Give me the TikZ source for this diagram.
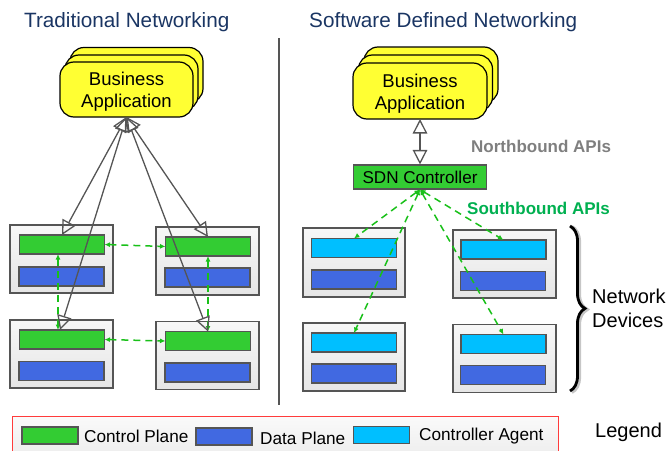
\documentclass[tikz,border=0pt]{standalone}
\usepackage{fontspec}
\setmainfont{Liberation Sans}
\usetikzlibrary{arrows.meta,decorations.pathreplacing}
\definecolor{titleblue}{HTML}{1A3563}
\definecolor{ctrlgreen}{HTML}{33CC33}
\definecolor{datablue}{HTML}{4169E1}
\definecolor{agentcyan}{HTML}{00BFFF}
\definecolor{appyellow}{HTML}{FFFF33}
\definecolor{edgegray}{HTML}{555555}
\definecolor{linkgreen}{HTML}{19C019}
\definecolor{southgreen}{HTML}{00B050}
\definecolor{northgray}{HTML}{7F7F7F}
\definecolor{legendred}{HTML}{FF3B3B}
\begin{document}
\begin{tikzpicture}[x=1pt,y=-1pt,
  title/.style={anchor=base west, text=titleblue, font=\fontsize{20.7}{24}\selectfont, inner sep=0},
  devbox/.style={draw=edgegray, line width=1.1pt, top color=white!97!black, bottom color=white!90!black,
    minimum width=103pt, minimum height=68pt, inner sep=0, outer sep=0},
  bar/.style={draw=edgegray, line width=1.1pt, minimum width=85pt, minimum height=19pt, inner sep=0, outer sep=0},
  ctrlbar/.style={bar, fill=ctrlgreen},
  databar/.style={bar, fill=datablue},
  agentbar/.style={bar, fill=agentcyan},
  appcard/.style={draw=black, line width=1.2pt, fill=appyellow, rounded corners=14pt,
    minimum width=133pt, minimum height=55pt, inner sep=0, outer sep=0},
  applabel/.style={align=center, inner sep=0, font=\fontsize{18.5}{21.5}\selectfont},
  apiarrow/.style={>={Triangle[open,length=14.5pt,width=14.5pt]}, <->, draw=edgegray, line width=1.3pt},
  peerlink/.style={>={Latex[length=5.5pt,width=5pt]}, <->, draw=linkgreen, line width=1.5pt,
    dash pattern=on 7pt off 5pt},
  apilabel/.style={anchor=west, inner sep=0, font=\fontsize{17}{20}\selectfont\bfseries},
  swatch/.style={draw=edgegray, line width=1.1pt, minimum width=56pt, minimum height=17pt, inner sep=0},
  legendtext/.style={anchor=west, inner sep=0, font=\fontsize{17.2}{20}\selectfont},
]
\useasboundingbox (0,0) rectangle (672,450);
\clip (0,0) rectangle (672,450);

% headings and divider
\node[title] (ttrad) at (24,27.5) {Traditional Networking};
\node[title] (tsdn) at (309,27.5) {Software Defined Networking};
\draw[edgegray, line width=1.5pt] (279,38) -- (279,405);

% ---------- traditional networking ----------
\node[appcard] (appLc) at (136.5,75) {};
\node[appcard] (appLb) at (131.5,82.5) {};
\node[appcard] (appL) at (126.5,89.5) {};
\node[applabel] (appLt) at (126.5,91.5) {Business\\Application};

\node[devbox] (tl) at (61.5,259) {};
\node[ctrlbar] (tlg) at (62,244.5) {};
\node[databar] (tlb) at (61.5,276.5) {};
\node[devbox] (tr) at (207.5,261) {};
\node[ctrlbar] (trg) at (208,246.5) {};
\node[databar] (trb) at (207.5,277.5) {};
\node[devbox] (bl) at (61.5,354) {};
\node[ctrlbar] (blg) at (62,339.5) {};
\node[databar] (blb) at (61.5,371) {};
\node[devbox] (br) at (207.5,355.5) {};
\node[ctrlbar] (brg) at (208,341) {};
\node[databar] (brb) at (207.5,372.5) {};

\draw[peerlink] (tlg.east) -- (trg.west);
\draw[peerlink] (blg.east) -- (brg.west);
\draw[peerlink] ([xshift=-4pt]tlg.south) -- ([xshift=-4pt]blg.north);
\draw[peerlink] (trg.south) -- (brg.north);

\draw[apiarrow] (appL.south) -- (tlg.north);
\draw[apiarrow] (appL.south) -- ([xshift=-2pt]blg.north);
\draw[apiarrow] (appL.south) -- (trg.north);
\draw[apiarrow] (appL.south) -- (brg.north);

% ---------- software defined networking ----------
\node[appcard, minimum width=134pt, minimum height=56pt] (appRc) at (431,75) {};
\node[appcard, minimum width=134pt, minimum height=56pt] (appRb) at (425.5,83) {};
\node[appcard, minimum width=134pt, minimum height=56pt] (appR) at (420,91) {};
\node[applabel] (appRt) at (420,93.5) {Business\\Application};

\node[draw=edgegray, line width=1.1pt, fill=ctrlgreen, minimum width=133pt, minimum height=24pt,
  inner sep=0, font=\fontsize{17.1}{20}\selectfont] (ctrl) at (420,177) {SDN Controller};
\draw[apiarrow] (appR.south) -- (ctrl.north);

\node[apilabel, text=northgray] (nb) at (471,146) {Northbound APIs};
\node[apilabel, text=southgreen] (sb) at (467,208) {Southbound APIs};

\node[devbox, minimum width=102pt, minimum height=69pt] (rtl) at (354,262.5) {};
\node[agentbar] (rtla) at (354,248) {};
\node[databar] (rtlb) at (354,279.5) {};
\node[devbox] (rtr) at (504.5,264) {};
\node[agentbar] (rtra) at (503.5,249.5) {};
\node[databar] (rtrb) at (503,281) {};
\node[devbox, minimum width=102pt] (rbl) at (354,357) {};
\node[agentbar] (rbla) at (354,342.5) {};
\node[databar] (rblb) at (354,373.5) {};
\node[devbox] (rbr) at (504.5,358.5) {};
\node[agentbar] (rbra) at (503.5,344) {};
\node[databar] (rbrb) at (503,375) {};

\draw[peerlink] (ctrl.south) -- (rtla.north);
\draw[peerlink] (ctrl.south) -- (rbla.north);
\draw[peerlink] (ctrl.south) -- (rtra.north);
\draw[peerlink] (ctrl.south) -- (rbra.north);

% brace grouping the devices
\coordinate (bracetop) at (570,226);
\coordinate (bracebot) at (570,391);
\draw[decorate, decoration={brace, amplitude=15pt}, line width=4.2pt, draw=gray!45]
  ([xshift=1.5pt,yshift=-1pt]bracetop) -- ([xshift=1.5pt,yshift=-1pt]bracebot);
\draw[decorate, decoration={brace, amplitude=15pt}, line width=2.8pt] (bracetop) -- (bracebot);
\node[anchor=west, align=left, inner sep=0, font=\fontsize{20}{23.5}\selectfont] (devlabel)
  at (592,308.5) {Network\\Devices};

% legend
\node[draw=legendred, line width=1pt, top color=white!98!black, bottom color=white!93!black,
  minimum width=546pt, minimum height=40pt, anchor=north west, inner sep=0] (legend) at (12,416) {};
\node[swatch, fill=ctrlgreen] (lgc) at (50,435.5) {};
\node[legendtext] (lgct) at (84,436) {Control Plane};
\node[swatch, fill=datablue] (lgd) at (224,436.5) {};
\node[legendtext] (lgdt) at (260,438) {Data Plane};
\node[swatch, fill=agentcyan] (lga) at (381.5,435) {};
\node[legendtext] (lgat) at (419,436) {Controller Agent};
\node[anchor=west, inner sep=0, font=\fontsize{20}{24}\selectfont] (legendword) at (595,432) {Legend};
\end{tikzpicture}
\end{document}
